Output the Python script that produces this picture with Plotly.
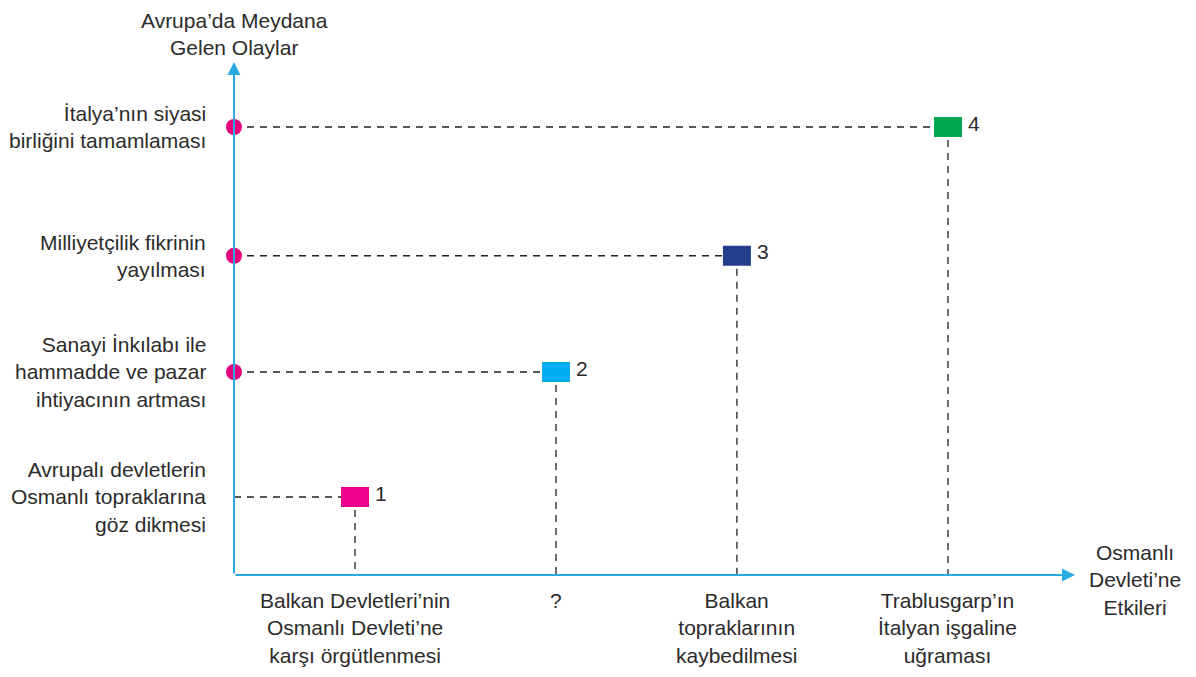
import plotly.graph_objects as go

# ---- data ----
event_labels = [
    "Avrupalı devletlerin<br>Osmanlı topraklarına<br>göz dikmesi",
    "Sanayi İnkılabı ile<br>hammadde ve pazar<br>ihtiyacının artması",
    "Milliyetçilik fikrinin<br>yayılması",
    "İtalya’nın siyasi<br>birliğini tamamlaması",
]
effect_labels = [
    "Balkan Devletleri’nin<br>Osmanlı Devleti’ne<br>karşı örgütlenmesi",
    "?",
    "Balkan<br>topraklarının<br>kaybedilmesi",
    "Trablusgarp’ın<br>İtalyan işgaline<br>uğraması",
]
event_y = [1.0, 2.0, 2.93, 3.96]
effect_x = [1.0, 2.0, 2.9, 3.95]
numbers = ["1", "2", "3", "4"]
marker_colors = ["#ec008c", "#00aeef", "#233e8b", "#00a651"]
has_dot = [False, True, True, True]
y_title = "Avrupa’da Meydana<br>Gelen Olaylar"
x_title = "Osmanlı<br>Devleti’ne<br>Etkileri"

AXIS_BLUE = "#29abe2"
TEXT = "#2b2b2b"
FONT = "Liberation Sans, Arial, sans-serif"
FS = 21

x0, x1 = 0.398, 4.582
y0, y1 = 0.376, 4.48

fig = go.Figure()

# dashed guide lines
for ex, ey in zip(effect_x, event_y):
    fig.add_trace(go.Scatter(x=[x0, ex], y=[ey, ey], mode="lines",
                             line=dict(color="#222", width=1.3, dash="7px,6px"),
                             hoverinfo="skip", showlegend=False))
    fig.add_trace(go.Scatter(x=[ex, ex], y=[ey, y0], mode="lines",
                             line=dict(color="#222", width=1.3, dash="7px,6px"),
                             hoverinfo="skip", showlegend=False))

# magenta dots on y axis
dot_y = [y for y, d in zip(event_y, has_dot) if d]
fig.add_trace(go.Scatter(x=[x0] * len(dot_y), y=dot_y, mode="markers",
                         marker=dict(color="#e5007e", size=16, line=dict(width=0)),
                         cliponaxis=False, hoverinfo="skip", showlegend=False))

shapes = []
annotations = []
# rectangular markers
for ex, ey, c, n in zip(effect_x, event_y, marker_colors, numbers):
    shapes.append(dict(type="rect", xref="x", yref="y", xsizemode="pixel", ysizemode="pixel",
                       xanchor=ex, yanchor=ey, x0=-14, x1=14, y0=-10, y1=10,
                       fillcolor=c, line=dict(width=0), layer="above"))
    annotations.append(dict(x=ex, y=ey, xref="x", yref="y", text=n, showarrow=False,
                            xshift=26, yshift=4, font=dict(size=FS, color=TEXT, family=FONT)))

# axes with arrows
annotations.append(dict(x=x1, y=y0, ax=x0, ay=y0, xref="x", yref="y", axref="x", ayref="y",
                        text="", showarrow=True, arrowhead=2, arrowsize=1.3, arrowwidth=2,
                        arrowcolor=AXIS_BLUE))
annotations.append(dict(x=x0, y=y1, ax=x0, ay=y0, xref="x", yref="y", axref="x", ayref="y",
                        text="", showarrow=True, arrowhead=2, arrowsize=1.3, arrowwidth=2,
                        arrowcolor=AXIS_BLUE))

# event labels
for lab, ey in zip(event_labels, event_y):
    annotations.append(dict(x=0, y=ey, xref="paper", yref="y", text=lab, showarrow=False,
                            xanchor="right", yanchor="middle", align="right", xshift=-26,
                            font=dict(size=FS, color=TEXT, family=FONT)))
# effect labels
for lab, ex in zip(effect_labels, effect_x):
    annotations.append(dict(x=ex, y=0, xref="x", yref="paper", text=lab, showarrow=False,
                            xanchor="center", yanchor="top", align="center", yshift=-12,
                            font=dict(size=FS, color=TEXT, family=FONT)))
# axis titles
annotations.append(dict(x=0, y=1, xref="paper", yref="paper", text=y_title, showarrow=False,
                        xanchor="center", yanchor="bottom", align="center", yshift=1,
                        font=dict(size=FS, color=TEXT, family=FONT)))
annotations.append(dict(x=1, y=0, xref="paper", yref="paper", text=x_title, showarrow=False,
                        xanchor="center", yanchor="middle", align="center", xshift=60, yshift=-5,
                        font=dict(size=FS, color=TEXT, family=FONT)))

fig.update_layout(
    width=1180, height=661,
    margin=dict(l=226, r=113, t=54, b=94),
    paper_bgcolor="white", plot_bgcolor="white",
    xaxis=dict(range=[x0, x1], visible=False, fixedrange=True),
    yaxis=dict(range=[y0, y1], visible=False, fixedrange=True),
    shapes=shapes, annotations=annotations, showlegend=False,
)

fig.write_html("out.html")
